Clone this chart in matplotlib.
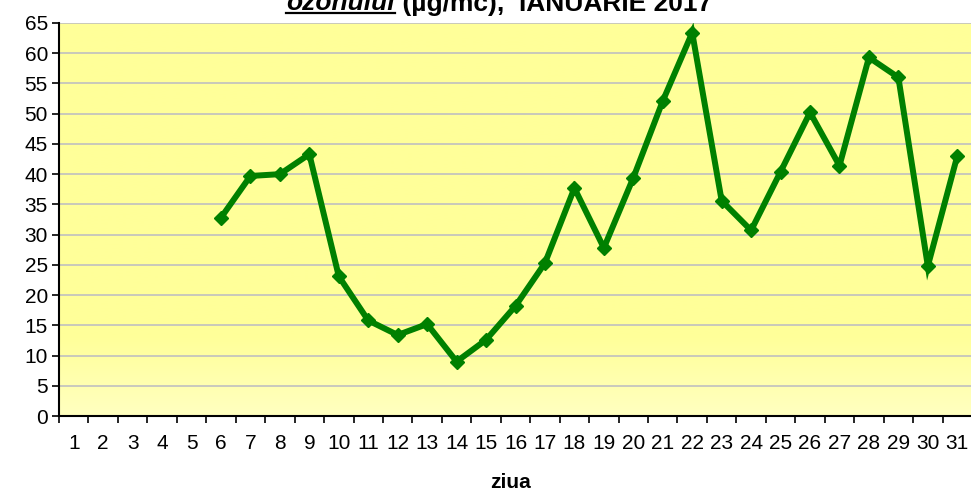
import numpy as np
import matplotlib
matplotlib.use("Agg")
import matplotlib.pyplot as plt
from matplotlib.lines import Line2D

plt.rcParams['font.family'] = ['Liberation Sans', 'DejaVu Sans']

# daily ozone values, January 2017 (no data for days 1-5)
days = [str(d) for d in range(1, 32)]
ozone = [np.nan, np.nan, np.nan, np.nan, np.nan,
         32.8, 39.7, 40.0, 43.3, 23.1, 15.8, 13.4, 15.2, 9.0, 12.6,
         18.2, 25.3, 37.7, 27.8, 39.4, 52.1, 63.4, 35.6, 30.7, 40.4,
         50.2, 41.4, 59.3, 56.0, 24.8, 43.0]
yticks = list(range(0, 70, 5))

W, H = 971, 491
fig = plt.figure(figsize=(W / 100, H / 100), dpi=100)
ax = fig.add_axes([59 / W, 1 - 416 / H, (972 - 59) / W, (416 - 23) / H])

x = np.arange(len(days))

# yellow fill, slightly lighter towards the bottom
grad = np.ones((100, 1, 3))
t = np.linspace(0, 1, 100)[:, None]
light = np.clip((t - 0.8) / 0.2, 0, 1)
grad[:, :, 2] = 0.6 + 0.15 * light
ax.imshow(grad, extent=[-0.5, 30.5, 0, 65], origin='upper', aspect='auto',
          zorder=0, interpolation='bilinear')

for yv in yticks[1:]:
    ax.axhline(yv, color='#c0c0c0', lw=1.2, zorder=1)

ax.plot(x, ozone, color='#008000', lw=4.3, marker='D', ms=7,
        zorder=3, solid_joinstyle='miter')

ax.set_xlim(-0.5, 30.5)
ax.set_ylim(0, 65)
ax.set_yticks(yticks)
ax.tick_params(axis='y', labelsize=15, length=5, width=1.2, direction='out', pad=3)

ax.set_xticks(np.arange(-0.5, 31, 1))
ax.set_xticklabels([])
ax.tick_params(axis='x', which='major', length=5, width=1.2, direction='out')
ax.set_xticks(x, minor=True)
ax.set_xticklabels(days, minor=True, fontsize=15)
ax.tick_params(axis='x', which='minor', length=0, pad=13)

for s in ['top', 'right']:
    ax.spines[s].set_visible(False)
ax.spines['left'].set_linewidth(1.5)
ax.spines['bottom'].set_linewidth(1.5)

fig.text(510 / W, 1 - 488 / H, 'ziua', fontsize=15, fontweight='bold',
         ha='center', va='baseline')

# title, mostly cut at the top of the picture
fig.canvas.draw()
r = fig.canvas.get_renderer()
base_y = 1 - 10.5 / H
t1 = fig.text(286 / W, base_y, 'ozonului', fontsize=19, fontweight='bold',
              style='italic', va='baseline', ha='left')
bb = t1.get_window_extent(r)
fig.text(bb.x1 / W, base_y, ' (µg/mc),  IANUARIE 2017', fontsize=19,
         fontweight='bold', va='baseline', ha='left')
fig.add_artist(Line2D([bb.x0 / W, bb.x1 / W], [1 - 12.5 / H, 1 - 12.5 / H],
                      color='black', lw=1.6))

fig.savefig('out.png', dpi=100)
